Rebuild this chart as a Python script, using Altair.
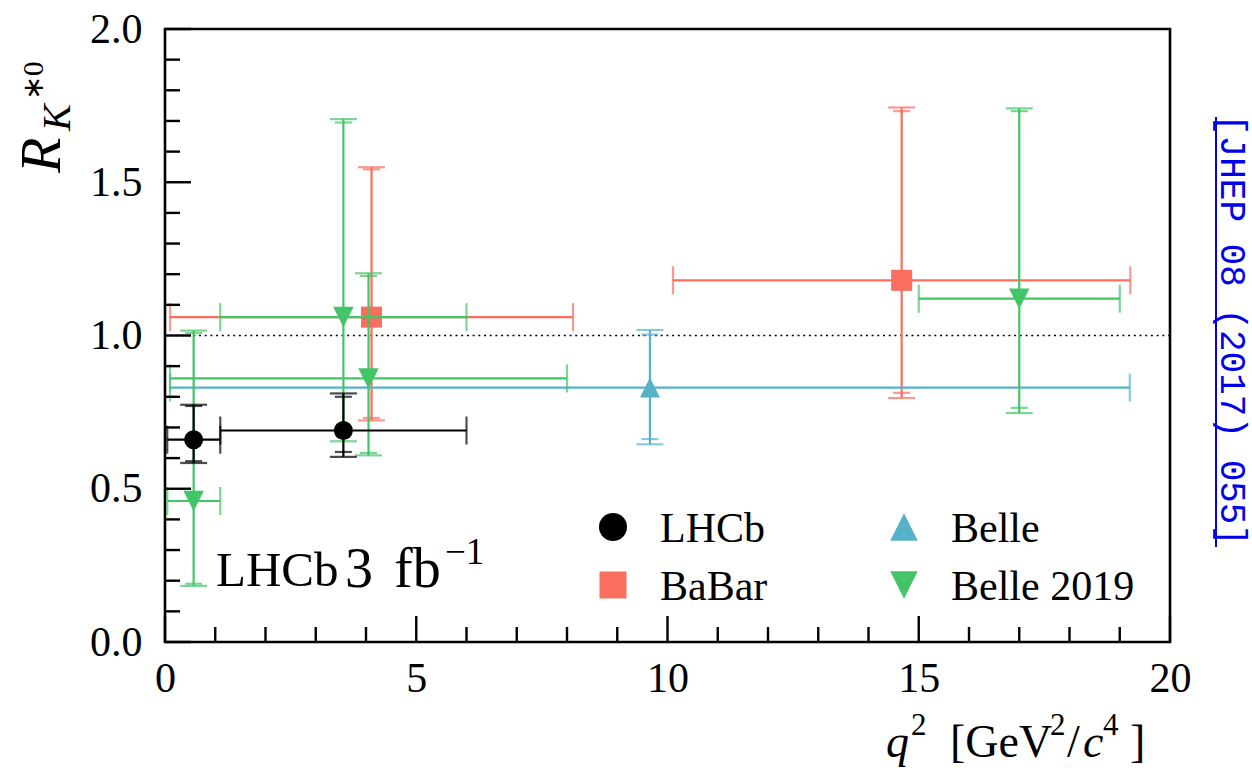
import altair as alt
import pandas as pd

# Plot area in pixels
W, H = 1005, 613
LEFT, TOP = 165, 29

SERIF = "Liberation Serif"
MONO = "Liberation Mono"

# ---- measurements: one entry per q^2 bin ----
experiment = ["LHCb", "LHCb", "BaBar", "BaBar", "Belle",
              "Belle 2019", "Belle 2019", "Belle 2019", "Belle 2019"]
q2_low = [0.045, 1.1, 0.1, 10.11, 0.1, 0.045, 1.1, 0.1, 15.0]
q2_high = [1.1, 6.0, 8.12, 19.21, 19.2, 1.1, 6.0, 8.0, 19.0]
q2_centre = [0.57, 3.55, 4.11, 14.66, 9.65, 0.57, 3.55, 4.05, 17.0]
r_kstar = [0.66, 0.69, 1.06, 1.18, 0.83, 0.46, 1.06, 0.86, 1.12]
stat_up = [0.77, 0.80, 1.542, 1.732, 1.003, 1.008, 1.695, 1.194, 1.732]
stat_down = [0.59, 0.62, 0.731, 0.813, 0.662, 0.190, 0.675, 0.617, 0.764]
total_up = [0.774, 0.811, 1.549, 1.744, 1.018, 1.016, 1.706, 1.203, 1.741]
total_down = [0.584, 0.604, 0.723, 0.796, 0.645, 0.183, 0.655, 0.609, 0.747]

# drawing order: later experiments sit on top
draw_order = ["BaBar", "Belle", "Belle 2019", "LHCb"]
colour = {"BaBar": "#F96E5E", "Belle": "#55B2C9",
          "Belle 2019": "#43C567", "LHCb": "#000000"}
TRI_UP = "M0,-1L-1,1L1,1Z"
TRI_DOWN = "M-1,-1L1,-1L0,1Z"
shape = {"BaBar": "square", "Belle": TRI_UP, "Belle 2019": TRI_DOWN, "LHCb": "circle"}
marker_size = {"BaBar": 441, "Belle": 400, "Belle 2019": 420, "LHCb": 361}

# legend entries
legend_labels = ["LHCb", "BaBar", "Belle", "Belle 2019"]

# axis ticks
y_major = [0.0, 0.5, 1.0, 1.5, 2.0]
y_minor = [0.1, 0.2, 0.3, 0.4, 0.6, 0.7, 0.8, 0.9,
           1.1, 1.2, 1.3, 1.4, 1.6, 1.7, 1.8, 1.9]
x_major = [0, 5, 10, 15, 20]
x_minor = [1, 2, 3, 4, 6, 7, 8, 9, 11, 12, 13, 14, 16, 17, 18, 19]
sm_level = [1.0]

df = pd.DataFrame({
    "experiment": experiment, "q2_low": q2_low, "q2_high": q2_high,
    "q2": q2_centre, "r": r_kstar, "stat_up": stat_up, "stat_down": stat_down,
    "total_up": total_up, "total_down": total_down,
})

xs = alt.Scale(domain=[0, 20], nice=False, zero=False)
ys = alt.Scale(domain=[0, 2], nice=False, zero=False)
x_axis = alt.Axis(values=x_major, format="d", title=None, ticks=False, tickSize=0,
                  domain=False, grid=False, labelFont=SERIF, labelFontSize=42,
                  labelColor="black", labelPadding=36, labelBaseline="middle",
                  labelFlush=False)
y_axis = alt.Axis(values=y_major, format=".1f", title=None, ticks=False, tickSize=0,
                  domain=False, grid=False, labelFont=SERIF, labelFontSize=42,
                  labelColor="black", labelPadding=23, labelFlush=False)


def X(field):
    return alt.X(field, type="quantitative", scale=xs, axis=x_axis)


def Y(field):
    return alt.Y(field, type="quantitative", scale=ys, axis=y_axis)


layers = []

# reference line at R = 1
layers.append(
    alt.Chart(pd.DataFrame({"v": sm_level}))
    .mark_rule(color="black", strokeWidth=1.6, strokeDash=[2, 3.7])
    .encode(y=Y("v"))
)

LW = 2.2
for name in draw_order:
    c = colour[name]
    base = alt.Chart(df).transform_filter(alt.datum.experiment == name)
    layers += [
        # q^2 bin width
        base.mark_rule(color=c, strokeWidth=LW).encode(x=X("q2_low"), x2="q2_high", y=Y("r")),
        base.mark_tick(color=c, orient="vertical", size=28, thickness=LW)
        .encode(x=X("q2_low"), y=Y("r")),
        base.mark_tick(color=c, orient="vertical", size=28, thickness=LW)
        .encode(x=X("q2_high"), y=Y("r")),
        # total uncertainty
        base.mark_rule(color=c, strokeWidth=LW).encode(x=X("q2"), y=Y("total_down"), y2="total_up"),
        base.mark_tick(color=c, orient="horizontal", size=27, thickness=LW)
        .encode(x=X("q2"), y=Y("total_up")),
        base.mark_tick(color=c, orient="horizontal", size=27, thickness=LW)
        .encode(x=X("q2"), y=Y("total_down")),
        # statistical uncertainty
        base.mark_tick(color=c, orient="horizontal", size=17, thickness=LW)
        .encode(x=X("q2"), y=Y("stat_up")),
        base.mark_tick(color=c, orient="horizontal", size=17, thickness=LW)
        .encode(x=X("q2"), y=Y("stat_down")),
        # central value
        base.mark_point(shape=shape[name], filled=True, opacity=1, color=c,
                        size=marker_size[name], strokeWidth=0)
        .encode(x=X("q2"), y=Y("r")),
    ]

# inward ticks on the left and bottom edges
TICK_W = 2.4
layers += [
    alt.Chart(pd.DataFrame({"v": y_major})).mark_rule(color="black", strokeWidth=TICK_W)
    .encode(y=Y("v"), x=alt.value(0), x2=alt.value(26)),
    alt.Chart(pd.DataFrame({"v": y_minor})).mark_rule(color="black", strokeWidth=TICK_W)
    .encode(y=Y("v"), x=alt.value(0), x2=alt.value(15)),
    alt.Chart(pd.DataFrame({"v": x_major})).mark_rule(color="black", strokeWidth=TICK_W)
    .encode(x=X("v"), y=alt.value(H), y2=alt.value(H - 26)),
    alt.Chart(pd.DataFrame({"v": x_minor})).mark_rule(color="black", strokeWidth=TICK_W)
    .encode(x=X("v"), y=alt.value(H), y2=alt.value(H - 15)),
]


def text(label, px, py, size, font=SERIF, style="normal", align="left",
         angle=0, color="black", baseline="alphabetic"):
    kw = dict(font=font, fontSize=size, fontStyle=style, align=align,
              baseline=baseline, color=color)
    if angle:
        kw["angle"] = angle
    return (alt.Chart(pd.DataFrame({"label": [label]}))
            .mark_text(**kw)
            .encode(text="label:N", x=alt.value(px - LEFT), y=alt.value(py - TOP)))


# legend
leg_col_x = [613, 613, 904, 904]
leg_row_y = [527, 585, 527, 585]
leg_marker_size = {"LHCb": 784, "BaBar": 729, "Belle": 760, "Belle 2019": 760}
for i, lab in enumerate(legend_labels):
    layers.append(
        alt.Chart(pd.DataFrame({"label": [lab]}))
        .mark_point(shape=shape[lab], filled=True, opacity=1, color=colour[lab],
                    size=leg_marker_size[lab], strokeWidth=0)
        .encode(x=alt.value(leg_col_x[i] - LEFT), y=alt.value(leg_row_y[i] - TOP))
    )
    layers.append(text(lab, leg_col_x[i] + 47, leg_row_y[i] + 15, 42))

# experiment label
layers += [
    text("LHCb", 216, 586, 49),
    text("3", 345, 587, 56),
    text("fb", 394, 587, 56),
    text("\u22121", 445, 564, 37),
]

# x-axis title: q^2 [GeV^2/c^4]
layers += [
    text("q", 886, 757, 46, style="italic"),
    text("2", 911, 735, 31),
    text("[GeV", 950, 757, 46),
    text("2", 1050, 735, 31),
    text("/", 1067, 757, 46),
    text("c", 1083, 757, 46, style="italic"),
    text("4", 1103, 735, 31),
    text("]", 1130, 757, 46),
]

# y-axis title: R_{K*0}
layers += [
    text("R", 60, 173, 58, style="italic", angle=270),
    text("K", 70, 131, 40, style="italic", angle=270),
    text("\u22170", 43, 100, 29, angle=270),
]

# journal reference on the right margin
layers += [
    text("[JHEP 08 (2017) 055]", 1221, 330, 36, font=MONO, align="center",
         angle=90, color="#0000EE"),
    alt.Chart(pd.DataFrame({"label": ["ref"]})).mark_rule(color="#0000EE", strokeWidth=2)
    .encode(x=alt.value(1216 - LEFT), y=alt.value(117 - TOP), y2=alt.value(547 - TOP)),
]

chart = (
    alt.layer(*layers)
    .properties(width=W, height=H, padding={"left": LEFT, "top": TOP, "right": 1252 - LEFT - W,
                                            "bottom": 768 - TOP - H},
                autosize=alt.AutoSizeParams(type="none"), background="white")
    .configure_view(stroke="black", strokeWidth=2.6)
)

chart.save("out.html", embed_options={"renderer": "svg", "actions": False})
